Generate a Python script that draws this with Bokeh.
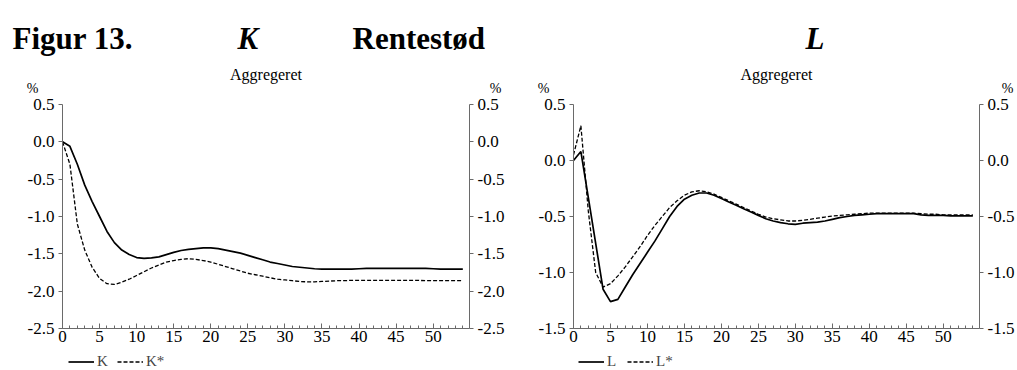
from bokeh.plotting import figure
from bokeh.models import (ColumnDataSource, LinearAxis, Range1d, SingleIntervalTicker,
                          PrintfTickFormatter, Legend, LegendItem)
from bokeh.core.properties import value
from bokeh.layouts import row, column
from bokeh.embed import file_html
from bokeh.resources import INLINE

FONT = "Liberation Serif"

quarters = list(range(0, 55))

k_actual = [0.0, -0.06, -0.3, -0.58, -0.8, -1.0, -1.2, -1.35, -1.45, -1.51, -1.55, -1.56,
            -1.555, -1.54, -1.51, -1.48, -1.455, -1.44, -1.43, -1.42, -1.42, -1.43, -1.45,
            -1.47, -1.49, -1.52, -1.55, -1.58, -1.61, -1.63, -1.65, -1.67, -1.68, -1.69,
            -1.70, -1.705, -1.705, -1.705, -1.705, -1.705, -1.70, -1.695, -1.695, -1.695,
            -1.695, -1.695, -1.695, -1.695, -1.695, -1.695, -1.70, -1.705, -1.705, -1.705, -1.705]
k_desired = [0.0, -0.3, -1.1, -1.45, -1.68, -1.83, -1.9, -1.91, -1.88, -1.84, -1.79, -1.74,
             -1.69, -1.65, -1.61, -1.59, -1.575, -1.565, -1.575, -1.59, -1.61, -1.64, -1.67,
             -1.70, -1.73, -1.76, -1.78, -1.80, -1.82, -1.84, -1.85, -1.86, -1.87, -1.875,
             -1.875, -1.87, -1.865, -1.86, -1.86, -1.855, -1.855, -1.855, -1.855, -1.855,
             -1.855, -1.855, -1.855, -1.855, -1.855, -1.86, -1.86, -1.86, -1.86, -1.86, -1.86]

l_actual = [0.0, 0.08, -0.33, -0.74, -1.15, -1.26, -1.24, -1.13, -1.02, -0.92, -0.82, -0.72,
            -0.61, -0.5, -0.41, -0.345, -0.31, -0.29, -0.29, -0.31, -0.34, -0.37, -0.40,
            -0.43, -0.46, -0.49, -0.52, -0.54, -0.555, -0.565, -0.57, -0.56, -0.555, -0.55,
            -0.54, -0.525, -0.51, -0.50, -0.49, -0.485, -0.48, -0.475, -0.475, -0.475, -0.475,
            -0.475, -0.475, -0.485, -0.49, -0.49, -0.49, -0.495, -0.495, -0.495, -0.495]
l_desired = [0.05, 0.31, -0.45, -1.0, -1.13, -1.1, -1.03, -0.95, -0.86, -0.77, -0.67, -0.58,
             -0.5, -0.42, -0.36, -0.31, -0.28, -0.27, -0.28, -0.30, -0.33, -0.36, -0.39,
             -0.42, -0.45, -0.48, -0.505, -0.52, -0.53, -0.54, -0.54, -0.535, -0.525, -0.515,
             -0.505, -0.495, -0.49, -0.485, -0.48, -0.475, -0.47, -0.47, -0.47, -0.47, -0.47,
             -0.47, -0.47, -0.475, -0.48, -0.48, -0.485, -0.485, -0.485, -0.485, -0.485]

figure_title = ["Figur 13.", "K", "Rentestød", "L"]
panel_title = "Aggregeret"
unit_label = "%"
k_labels = ["K", "K*"]
l_labels = ["L", "L*"]

AXIS_COLOR = "#6a6a6a"
TICK_FONT = "17px"

# ---------- header strip (titles, panel titles, unit labels) ----------
header = figure(width=1017, height=96, output_backend="svg", toolbar_location=None,
                x_range=Range1d(0, 1017), y_range=Range1d(96, 0),
                x_axis_type=None, y_axis_type=None, min_border=0,
                background_fill_color="white", border_fill_color="white")
header.outline_line_color = None
header.grid.visible = False

big = ColumnDataSource(dict(x=[12, 237, 352, 805], y=[38, 38, 38, 38], t=figure_title,
                            st=["bold", "bold italic", "bold", "bold italic"]))
header.text("x", "y", text="t", source=big, text_font=value(FONT), text_font_size="31px",
            text_font_style="st", text_align="left", text_baseline="alphabetic",
            text_color="black")
sub = ColumnDataSource(dict(x=[265.5, 776], y=[74, 74], t=[panel_title, panel_title]))
header.text("x", "y", text="t", source=sub, text_font=value(FONT), text_font_size="16px",
            text_align="center", text_baseline="alphabetic", text_color="black")
pct = ColumnDataSource(dict(x=[32, 495, 543, 1007], y=[95, 95, 95, 95], t=[unit_label] * 4))
header.text("x", "y", text="t", source=pct, text_font=value(FONT), text_font_size="14px",
            text_align="center", text_baseline="bottom", text_color="black")


def style_axis_y(ax, interval):
    ax.ticker = SingleIntervalTicker(interval=interval, num_minor_ticks=0)
    ax.formatter = PrintfTickFormatter(format="%.1f")
    ax.axis_line_color = AXIS_COLOR
    ax.major_tick_line_color = AXIS_COLOR
    ax.major_tick_in = 0
    ax.major_tick_out = 4
    ax.minor_tick_line_color = None
    ax.major_label_text_font = FONT
    ax.major_label_text_font_size = TICK_FONT
    ax.major_label_text_color = "black"
    ax.major_label_standoff = 4


def make_panel(y, ystar, ymin, ymax, width, bl, br):
    p = figure(width=width, height=255, output_backend="svg", toolbar_location=None,
               x_range=Range1d(0, 54.9), y_range=Range1d(ymin, ymax),
               min_border_left=bl, min_border_right=br, min_border_top=8, min_border_bottom=23,
               background_fill_color="white", border_fill_color="white")
    p.outline_line_color = None
    p.grid.visible = False
    src = ColumnDataSource(dict(x=quarters, a=y, b=ystar))
    p.line("x", "a", source=src, line_color="black", line_width=1.7)
    p.line("x", "b", source=src, line_color="black", line_width=1.3, line_dash="4 2")

    xa = p.xaxis[0]
    xa.ticker = SingleIntervalTicker(interval=5, num_minor_ticks=5)
    xa.axis_line_color = AXIS_COLOR
    xa.major_tick_line_color = AXIS_COLOR
    xa.minor_tick_line_color = AXIS_COLOR
    xa.major_tick_in = 5
    xa.major_tick_out = 0
    xa.minor_tick_in = 3
    xa.minor_tick_out = 0
    xa.major_label_text_font = FONT
    xa.major_label_text_font_size = TICK_FONT
    xa.major_label_text_color = "black"
    xa.major_label_standoff = 2

    style_axis_y(p.yaxis[0], 0.5)
    ra = LinearAxis()
    style_axis_y(ra, 0.5)
    p.add_layout(ra, "right")
    return p


def make_legend_strip(y, ystar, labels, width, lx):
    # strip below each panel that carries the series key (K / K*, L / L*)
    f = figure(width=width, height=19, output_backend="svg", toolbar_location=None,
               x_range=Range1d(0, 54.9), y_range=Range1d(100, 101),
               x_axis_type=None, y_axis_type=None, min_border=0,
               background_fill_color="white", border_fill_color="white")
    f.outline_line_color = None
    f.grid.visible = False
    src = ColumnDataSource(dict(x=quarters, a=y, b=ystar))
    r1 = f.line("x", "a", source=src, line_color="black", line_width=1.7)
    r2 = f.line("x", "b", source=src, line_color="black", line_width=1.3, line_dash="4 2")
    legend = Legend(items=[LegendItem(label=labels[0], renderers=[r1]),
                           LegendItem(label=labels[1], renderers=[r2])],
                    orientation="horizontal", location=(lx, 0),
                    glyph_width=26, glyph_height=17, label_standoff=3, spacing=0,
                    padding=0, margin=0, border_line_color=None, background_fill_alpha=0,
                    label_text_font=FONT, label_text_font_size="15px", label_height=17)
    f.add_layout(legend, "center")
    return f


p1 = make_panel(k_actual, k_desired, -2.5, 0.5, 508, 62, 39)
p2 = make_panel(l_actual, l_desired, -1.5, 0.5, 509, 65, 38)
f1 = make_legend_strip(k_actual, k_desired, k_labels, 508, 68)
f2 = make_legend_strip(l_actual, l_desired, l_labels, 509, 70)

layout = column(header, row(p1, p2), row(f1, f2))
open("out.html", "w").write(file_html(layout, INLINE))
